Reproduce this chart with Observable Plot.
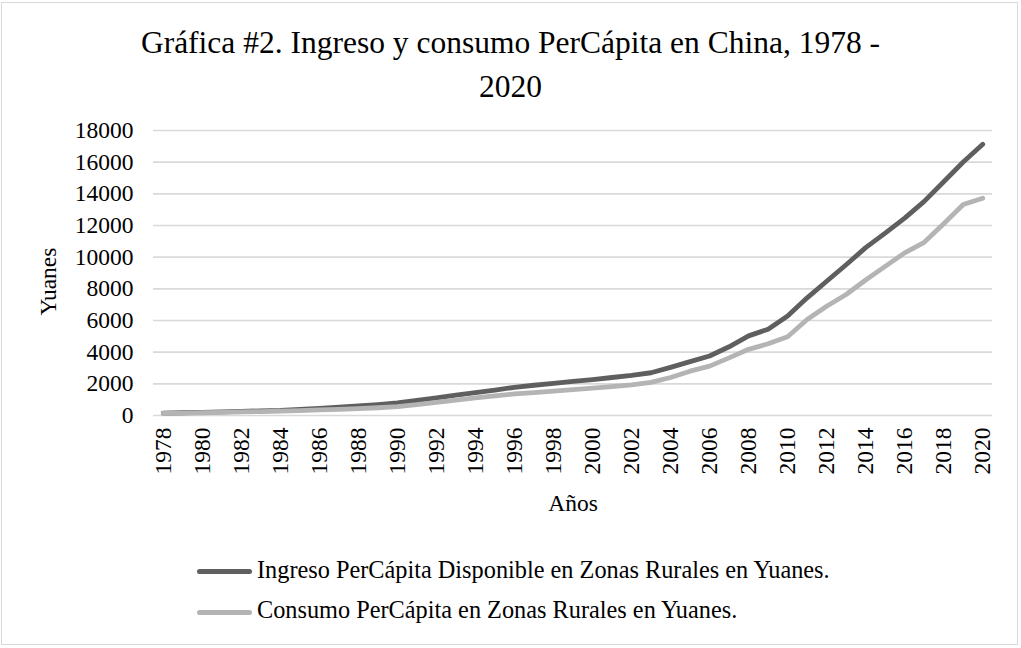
<!DOCTYPE html>
<html>
<head>
<meta charset="utf-8">
<script src="https://cdn.jsdelivr.net/npm/d3@7"></script>
<script src="https://cdn.jsdelivr.net/npm/@observablehq/plot@0.6"></script>
<style>
  html, body { margin: 0; padding: 0; background: #fff; }
  body { width: 1021px; height: 648px; position: relative; overflow: hidden; font-family: "Liberation Serif", "Times New Roman", serif; color: #000; }
  #frame { position: absolute; left: 1px; top: 2px; width: 1017px; height: 643px; border: 1px solid #d9d9d9; box-sizing: border-box; }
  #title { position: absolute; left: 0; top: 21px; width: 1021px; text-align: center; font-size: 31.5px; line-height: 44px; }
  #chart { position: absolute; left: 0; top: 100px; }
  .lg-sw { position: absolute; left: 197px; width: 55px; height: 5px; border-radius: 2.5px; }
  .lg-tx { position: absolute; left: 257px; font-size: 24.3px; line-height: 30px; white-space: nowrap; }
</style>
</head>
<body>
<div id="frame"></div>
<div id="title">Gráfica #2. Ingreso y consumo PerCápita en China, 1978 -<br>2020</div>
<div id="chart"></div>
<div id="legend"></div>
<script>
const years = [1978,1979,1980,1981,1982,1983,1984,1985,1986,1987,1988,1989,1990,1991,1992,1993,1994,1995,1996,1997,1998,1999,2000,2001,2002,2003,2004,2005,2006,2007,2008,2009,2010,2011,2012,2013,2014,2015,2016,2017,2018,2019,2020];
const ingreso = [150,175,200,230,260,290,320,380,450,520,600,690,790,950,1110,1280,1450,1610,1780,1910,2030,2150,2270,2400,2530,2700,3040,3400,3760,4340,5030,5450,6290,7430,8480,9520,10600,11520,12470,13520,14760,16010,17130];
const consumo = [130,150,175,200,225,250,270,310,350,390,440,490,560,690,830,970,1110,1240,1360,1450,1540,1630,1730,1830,1940,2090,2400,2800,3120,3640,4180,4530,4970,6060,6900,7640,8560,9420,10270,10940,12110,13330,13720];
const xTickYears = [1978,1980,1982,1984,1986,1988,1990,1992,1994,1996,1998,2000,2002,2004,2006,2008,2010,2012,2014,2016,2018,2020];
const yTicks = [0,2000,4000,6000,8000,10000,12000,14000,16000,18000];
const seriesNames = ["Ingreso PerCápita Disponible en Zonas Rurales en Yuanes.", "Consumo PerCápita en Zonas Rurales en Yuanes."];
const seriesColors = ["#5f5f5f", "#b4b4b4"];
const xTitle = "Años";
const yTitle = "Yuanes";

const rows = years.map((y, i) => ({year: y, ingreso: ingreso[i], consumo: consumo[i]}));

const chart = Plot.plot({
  width: 1021,
  height: 440,
  marginTop: 30,
  marginBottom: 125,
  marginLeft: 153,
  marginRight: 29,
  style: {fontFamily: '"Liberation Serif", "Times New Roman", serif', fontSize: "23.5px", color: "#000", background: "transparent", overflow: "visible"},
  x: {type: "linear", domain: [years[0] - 0.5, years[years.length - 1] + 0.5]},
  y: {domain: [0, 18000]},
  marks: [
    Plot.gridY(yTicks, {stroke: "#d9d9d9", strokeOpacity: 1, strokeWidth: 1.6}),
    Plot.axisY(yTicks, {tickSize: 0, tickPadding: 20, label: null, tickFormat: d => String(d)}),
    Plot.axisX(xTickYears, {tickSize: 0, tickPadding: 12, tickRotate: -90, label: null, tickFormat: d => String(d)}),
    Plot.line(rows, {x: "year", y: "ingreso", stroke: seriesColors[0], strokeWidth: 4.8, strokeLinecap: "round", strokeLinejoin: "round"}),
    Plot.line(rows, {x: "year", y: "consumo", stroke: seriesColors[1], strokeWidth: 4.8, strokeLinecap: "round", strokeLinejoin: "round"}),
    Plot.text([xTitle], {frameAnchor: "bottom", lineAnchor: "middle", textAnchor: "middle", dy: 87.5, text: d => d, fill: "#000"}),
    Plot.text([yTitle], {frameAnchor: "left", lineAnchor: "middle", textAnchor: "middle", dx: -105, dy: 8.5, rotate: -90, text: d => d, fill: "#000"})
  ]
});
document.getElementById("chart").appendChild(chart);

const legend = document.getElementById("legend");
const swTops = [569.2, 609.5];
const txTops = [554.5, 595.1];
seriesNames.forEach((name, i) => {
  const sw = document.createElement("div");
  sw.className = "lg-sw";
  sw.style.top = swTops[i] + "px";
  sw.style.background = seriesColors[i];
  legend.appendChild(sw);
  const tx = document.createElement("div");
  tx.className = "lg-tx";
  tx.style.top = txTops[i] + "px";
  tx.textContent = name;
  legend.appendChild(tx);
});
</script>
</body>
</html>
